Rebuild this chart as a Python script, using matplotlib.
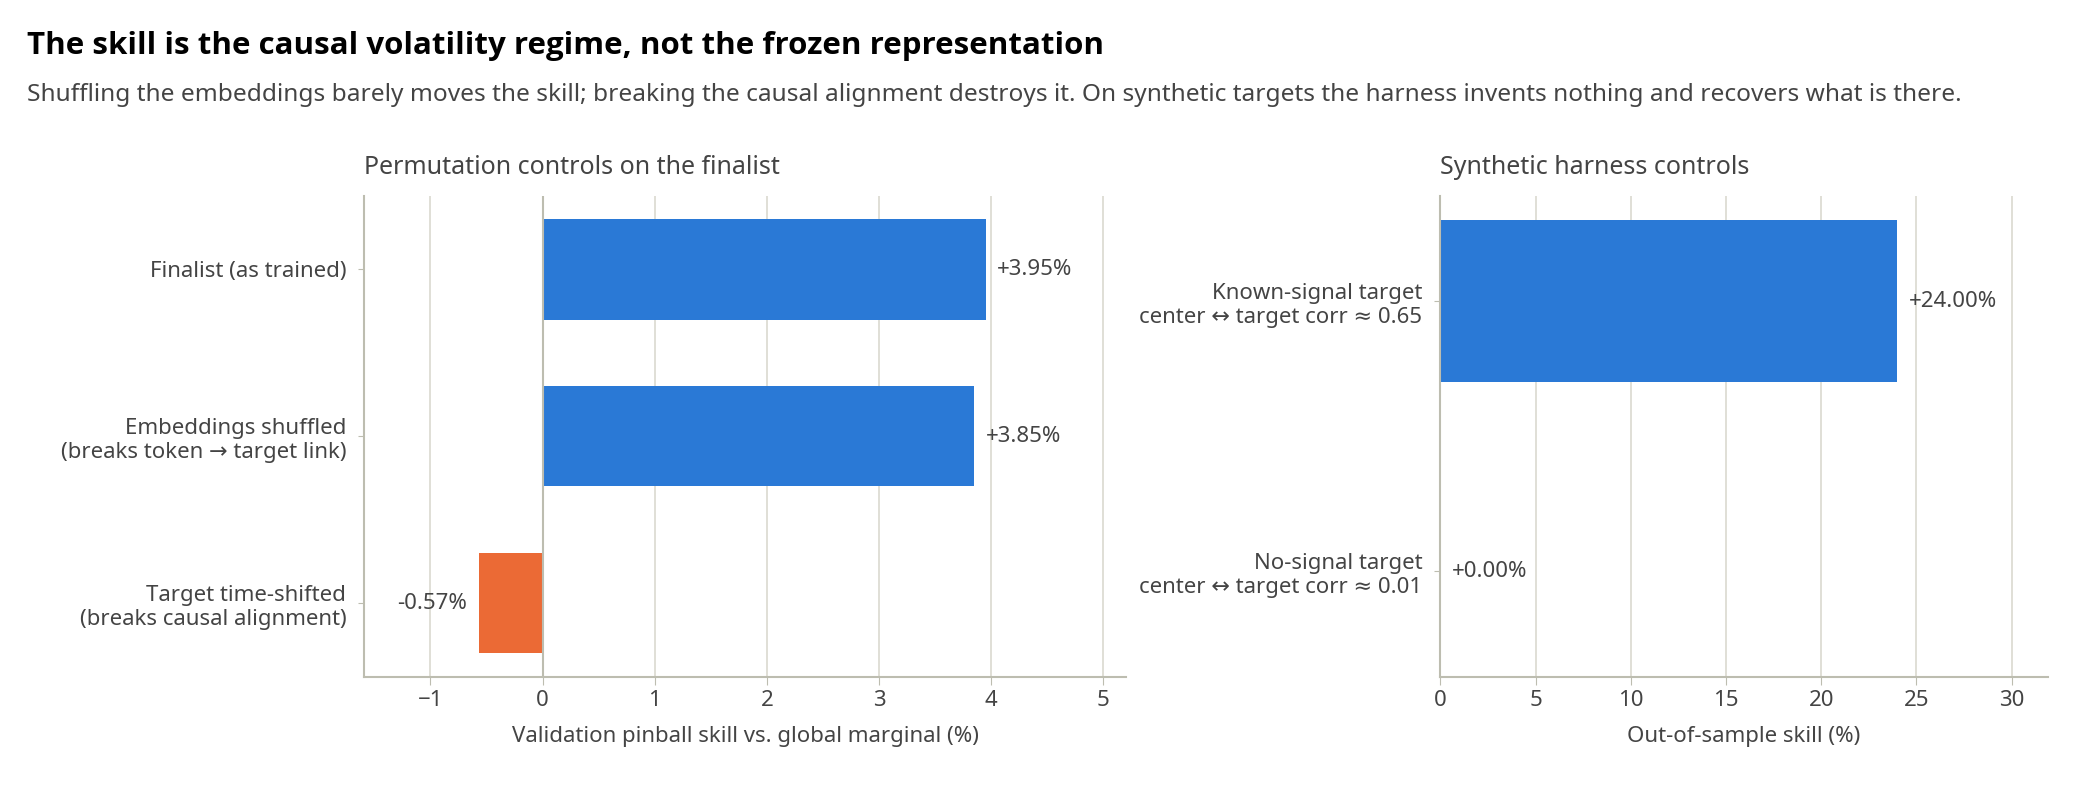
import matplotlib
matplotlib.use("Agg")
import matplotlib.pyplot as plt

plt.rcParams['font.family'] = ['Noto Sans', 'DejaVu Sans']

# left panel: permutation controls
perm_labels = ["Finalist (as trained)",
               "Embeddings shuffled\n(breaks token \u2192 target link)",
               "Target time-shifted\n(breaks causal alignment)"]
perm_skill = [3.95, 3.85, -0.57]

# right panel: synthetic harness
synth_labels = ["Known-signal target\ncenter \u2194 target corr \u2248 0.65",
                "No-signal target\ncenter \u2194 target corr \u2248 0.01"]
synth_skill = [24.00, 0.00]

BLUE = "#2a79d6"
ORANGE = "#eb6a35"
TXT = "#444444"
SPINE = "#bdbdb0"
GRID = "#dddcd3"
FS = 16

fig = plt.figure(figsize=(20.8, 8), dpi=100)
ax1 = fig.add_axes([0.1751, 0.154, 0.3661, 0.601])
ax2 = fig.add_axes([0.6925, 0.154, 0.292, 0.601])


def style(ax):
    for s in ["top", "right"]:
        ax.spines[s].set_visible(False)
    for s in ["left", "bottom"]:
        ax.spines[s].set_color(SPINE)
        ax.spines[s].set_linewidth(1.5)
    ax.tick_params(axis="both", colors=SPINE, labelcolor=TXT, labelsize=FS)
    ax.tick_params(axis="y", length=4, pad=9)
    ax.tick_params(axis="x", length=6)
    ax.grid(axis="x", color=GRID, linewidth=1.3)
    ax.set_axisbelow(True)


def put_labels(ax, vals):
    for i, v in enumerate(vals):
        if v < 0:
            ax.annotate(f"{v:.2f}%", (v, i), xytext=(-8, 0), textcoords="offset points",
                        ha="right", va="center", fontsize=FS, color=TXT)
        else:
            ax.annotate(f"+{v:.2f}%", (v, i), xytext=(8, 0), textcoords="offset points",
                        ha="left", va="center", fontsize=FS, color=TXT)


# left
style(ax1)
cols = [BLUE if v >= 0 else ORANGE for v in perm_skill]
ax1.barh(range(len(perm_skill)), perm_skill, height=0.6, color=cols)
ax1.axvline(0, color=SPINE, linewidth=1.5, zorder=3)
ax1.set_yticks(range(len(perm_labels)))
ax1.set_yticklabels(perm_labels)
ax1.set_ylim(2.44, -0.44)
ax1.set_xlim(-1.59, 5.2)
ax1.set_xticks([-1, 0, 1, 2, 3, 4, 5])
ax1.set_xticklabels(["\u22121", "0", "1", "2", "3", "4", "5"])
ax1.set_xlabel("Validation pinball skill vs. global marginal (%)", fontsize=FS, color=TXT, labelpad=11)
ax1.set_title("Permutation controls on the finalist", loc="left", fontsize=18, color=TXT, pad=16)
put_labels(ax1, perm_skill)

# right
style(ax2)
ax2.barh(range(len(synth_skill)), synth_skill, height=0.6, color=BLUE)
ax2.set_yticks(range(len(synth_labels)))
ax2.set_yticklabels(synth_labels)
ax2.set_ylim(1.39, -0.39)
ax2.set_xlim(0, 31.9)
ax2.set_xticks([0, 5, 10, 15, 20, 25, 30])
ax2.set_xlabel("Out-of-sample skill (%)", fontsize=FS, color=TXT, labelpad=11)
ax2.set_title("Synthetic harness controls", loc="left", fontsize=18, color=TXT, pad=16)
put_labels(ax2, synth_skill)

fig.text(0.013, 0.943, "The skill is the causal volatility regime, not the frozen representation",
         fontsize=22.5, fontweight="bold", color="black", va="center",
         family=["Open Sans", "DejaVu Sans"])
fig.text(0.013, 0.881, "Shuffling the embeddings barely moves the skill; breaking the causal alignment destroys it. "
         "On synthetic targets the harness invents nothing and recovers what is there.",
         fontsize=17.6, color=TXT, va="center")

fig.savefig("out.png", dpi=100, facecolor="white")
